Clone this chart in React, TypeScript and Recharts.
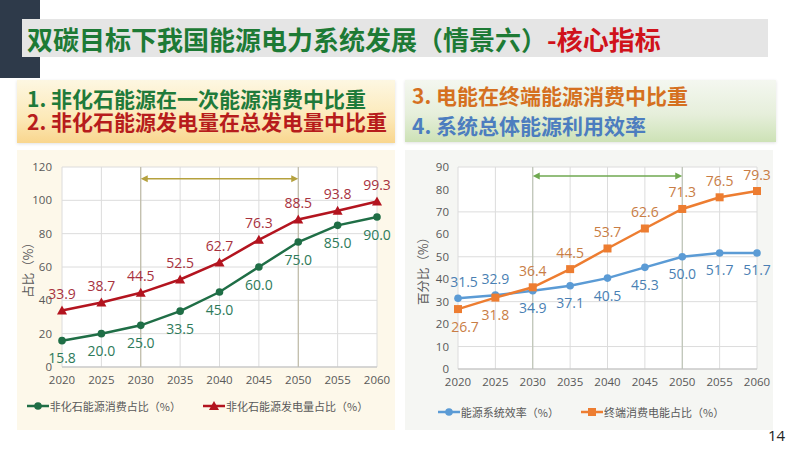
import React from "react";
import {
  LineChart,
  Line,
  XAxis,
  YAxis,
  CartesianGrid,
  ReferenceLine,
  LabelList,
  Legend,
} from "recharts";

// categories
const years = ["2020", "2025", "2030", "2035", "2040", "2045", "2050", "2055", "2060"];

// left chart: non-fossil shares (%)
const nonFossilConsumption = [15.8, 20.0, 25.0, 33.5, 45.0, 60.0, 75.0, 85.0, 90.0];
const nonFossilGeneration = [33.9, 38.7, 44.5, 52.5, 62.7, 76.3, 88.5, 93.8, 99.3];

// right chart: efficiency and electricity share (%)
const systemEfficiency = [31.5, 32.9, 34.9, 37.1, 40.5, 45.3, 50.0, 51.7, 51.7];
const electricityShare = [26.7, 31.8, 36.4, 44.5, 53.7, 62.6, 71.3, 76.5, 79.3];

const leftTicks = [0, 20, 40, 60, 80, 100, 120];
const rightTicks = [0, 10, 20, 30, 40, 50, 60, 70, 80, 90];

// span marked by the arrow (2030 -> 2050)
const spanYears = ["2030", "2050"];
const leftArrowLevel = 113;
const rightArrowLevel = 86;

// label side per point: 1 = above, -1 = below
const efficiencyLabelSide = [1, 1, -1, -1, -1, -1, -1, -1, -1];
const electricityLabelSide = [-1, -1, 1, 1, 1, 1, 1, 1, 1];

const leftData = years.map((year, i) => ({
  year,
  consumption: nonFossilConsumption[i],
  generation: nonFossilGeneration[i],
}));

const rightData = years.map((year, i) => ({
  year,
  efficiency: systemEfficiency[i],
  electricity: electricityShare[i],
}));

const CJK = '"Noto Sans CJK SC", sans-serif';
const NUM = '"Open Sans", "Noto Sans CJK SC", sans-serif';
const TICK = { fontSize: 11.5, fill: "#595959", fontFamily: NUM };

const GREEN = "#1f6e46";
const RED = "#b3141f";
const BLUE = "#5b9bd5";
const ORANGE = "#ed7d31";

function markerFor(kind: string, color: string, cx: number, cy: number, key?: string) {
  if (kind === "triangle") {
    return (
      <polygon
        key={key}
        points={`${cx},${cy - 5} ${cx - 5},${cy + 4} ${cx + 5},${cy + 4}`}
        fill={color}
      />
    );
  }
  if (kind === "square") {
    return <rect key={key} x={cx - 4} y={cy - 4} width={8} height={8} fill={color} />;
  }
  return <circle key={key} cx={cx} cy={cy} r={3.8} fill={color} />;
}

const dotRenderer = (kind: string, color: string) => (props: any) =>
  markerFor(kind, color, props.cx, props.cy, `${kind}-${props.index}`);

// firstShift nudges the first label right, off the y-axis ticks
const valueLabel = (color: string, sides: number[] | number, firstShift = 0) => (props: any) => {
  const { x, y, value, index } = props;
  const side = Array.isArray(sides) ? sides[index] : sides;
  return (
    <text
      x={x + (index === 0 ? firstShift : 0)}
      y={y - side * 17}
      textAnchor="middle"
      dominantBaseline="central"
      fill={color}
      fontSize={14}
      fontFamily={NUM}
    >
      {Number(value).toFixed(1)}
    </text>
  );
};

const arrowShape = (color: string) => (props: any) => {
  const { x1, y1, x2, y2 } = props;
  return (
    <g>
      <line x1={x1 + 4} y1={y1} x2={x2 - 4} y2={y2} stroke={color} strokeWidth={1.5} />
      <polygon points={`${x1},${y1} ${x1 + 7},${y1 - 3.5} ${x1 + 7},${y1 + 3.5}`} fill={color} />
      <polygon points={`${x2},${y2} ${x2 - 7},${y2 - 3.5} ${x2 - 7},${y2 + 3.5}`} fill={color} />
    </g>
  );
};

const axisTitle = (text: string, dx: number) => ({
  content: (props: any) => {
    const vb = props.viewBox || { x: 0, y: 0, width: 0, height: 0 };
    const cx = vb.x + dx;
    const cy = vb.y + vb.height / 2;
    return (
      <text
        transform={`translate(${cx}, ${cy}) rotate(-90)`}
        textAnchor="middle"
        dominantBaseline="central"
        fontSize={12.5}
        fill="#595959"
        fontFamily={CJK}
      >
        {text}
      </text>
    );
  },
});

type LegendItem = { name: string; color: string; kind: string };

function LegendRow({ items }: { items: LegendItem[] }) {
  return (
    <div
      style={{
        display: "flex",
        justifyContent: "center",
        alignItems: "center",
        gap: 22,
        fontSize: 11,
        color: "#595959",
        fontFamily: CJK,
        height: 28,
      }}
    >
      {items.map((it) => (
        <div key={it.name} style={{ display: "flex", alignItems: "center" }}>
          <svg width={22} height={10} style={{ marginRight: 1 }}>
            <line x1={0} y1={5} x2={22} y2={5} stroke={it.color} strokeWidth={2.5} />
            {markerFor(it.kind, it.color, 11, 5)}
          </svg>
          <span>{it.name}</span>
        </div>
      ))}
    </div>
  );
}

const leftLegend: LegendItem[] = [
  { name: "非化石能源消费占比（%）", color: GREEN, kind: "circle" },
  { name: "非化石能源发电量占比（%）", color: RED, kind: "triangle" },
];

const rightLegend: LegendItem[] = [
  { name: "能源系统效率（%）", color: BLUE, kind: "circle" },
  { name: "终端消费电能占比（%）", color: ORANGE, kind: "square" },
];

function LeftChart() {
  return (
    <LineChart
      width={378}
      height={280}
      data={leftData}
      margin={{ top: 17, right: 19, bottom: 10, left: 0 }}
    >
      <CartesianGrid stroke="#dcdcdc" fill="#ffffff" />
      <XAxis
        dataKey="year"
        tick={TICK}
        tickLine={false}
        axisLine={{ stroke: "#bfbfbf" }}
        height={25}
        tickMargin={3}
      />
      <YAxis
        domain={[0, 120]}
        ticks={leftTicks}
        tick={TICK}
        tickLine={false}
        axisLine={false}
        width={44}
        tickMargin={4}
        label={axisTitle("占比（%）", 9)}
      />
      {spanYears.map((y) => (
        <ReferenceLine key={y} x={y} stroke="#b9b49c" strokeWidth={1} />
      ))}
      <ReferenceLine
        segment={[
          { x: spanYears[0], y: leftArrowLevel },
          { x: spanYears[1], y: leftArrowLevel },
        ]}
        shape={arrowShape("#b5a13e")}
      />
      <Line
        dataKey="consumption"
        stroke={GREEN}
        strokeWidth={2.5}
        dot={dotRenderer("circle", GREEN)}
        isAnimationActive={false}
      >
        <LabelList dataKey="consumption" content={valueLabel("#2e7a5a", -1)} />
      </Line>
      <Line
        dataKey="generation"
        stroke={RED}
        strokeWidth={2.5}
        dot={dotRenderer("triangle", RED)}
        isAnimationActive={false}
      >
        <LabelList dataKey="generation" content={valueLabel("#a8323e", 1)} />
      </Line>
      <Legend verticalAlign="bottom" height={28} content={() => <LegendRow items={leftLegend} />} />
    </LineChart>
  );
}

function RightChart() {
  return (
    <LineChart
      width={372}
      height={282}
      data={rightData}
      margin={{ top: 17, right: 20, bottom: 6, left: 0 }}
    >
      <CartesianGrid stroke="#dcdcdc" fill="#ffffff" />
      <XAxis
        dataKey="year"
        tick={TICK}
        tickLine={false}
        axisLine={{ stroke: "#bfbfbf" }}
        height={29}
        tickMargin={3}
      />
      <YAxis
        domain={[0, 90]}
        ticks={rightTicks}
        tick={TICK}
        tickLine={false}
        axisLine={false}
        width={53}
        tickMargin={3}
        label={axisTitle("百分比（%）", 17)}
      />
      {spanYears.map((y) => (
        <ReferenceLine key={y} x={y} stroke="#b7bfae" strokeWidth={1} />
      ))}
      <ReferenceLine
        segment={[
          { x: spanYears[0], y: rightArrowLevel },
          { x: spanYears[1], y: rightArrowLevel },
        ]}
        shape={arrowShape("#6fa950")}
      />
      <Line
        dataKey="efficiency"
        stroke={BLUE}
        strokeWidth={2.5}
        dot={dotRenderer("circle", BLUE)}
        isAnimationActive={false}
      >
        <LabelList dataKey="efficiency" content={valueLabel("#4a7fb3", efficiencyLabelSide, 6)} />
      </Line>
      <Line
        dataKey="electricity"
        stroke={ORANGE}
        strokeWidth={2.5}
        dot={dotRenderer("square", ORANGE)}
        isAnimationActive={false}
      >
        <LabelList dataKey="electricity" content={valueLabel("#c97d45", electricityLabelSide, 7)} />
      </Line>
      <Legend verticalAlign="bottom" height={28} content={() => <LegendRow items={rightLegend} />} />
    </LineChart>
  );
}

export default function App() {
  return (
    <div
      style={{
        position: "absolute",
        left: 0,
        top: 0,
        width: 800,
        height: 450,
        background: "#ffffff",
        overflow: "hidden",
        fontFamily: CJK,
      }}
    >
      {/* header */}
      <div style={{ position: "absolute", left: 0, top: 0, width: 40, height: 78, background: "#2e3a4a" }} />
      <div
        style={{
          position: "absolute",
          left: 22,
          top: 19,
          width: 746,
          height: 38,
          background: "#e5e5e5",
          display: "flex",
          alignItems: "center",
          paddingLeft: 5,
          boxSizing: "border-box",
          fontSize: 26,
          fontWeight: 700,
          whiteSpace: "nowrap",
          letterSpacing: 0,
        }}
      >
        <span style={{ color: "#1d7a35" }}>双碳目标下我国能源电力系统发展（情景六）</span>
        <span style={{ color: "#d0121b" }}>-核心指标</span>
      </div>

      {/* subtitle boxes */}
      <div
        style={{
          position: "absolute",
          left: 17,
          top: 80,
          width: 378,
          height: 63,
          background: "linear-gradient(to bottom, #fdf7e2 0%, #fce9b8 60%, #f9d68e 100%)",
          boxShadow: "0 1px 3px rgba(0,0,0,0.12)",
          fontSize: 21,
          fontWeight: 700,
          lineHeight: "23px",
          padding: "7px 0 0 10px",
          boxSizing: "border-box",
          whiteSpace: "nowrap",
        }}
      >
        <div style={{ color: "#1f7a3a", marginTop: 0 }}>1. 非化石能源在一次能源消费中比重</div>
        <div style={{ color: "#b71c1c" }}>2. 非化石能源发电量在总发电量中比重</div>
      </div>
      <div
        style={{
          position: "absolute",
          left: 405,
          top: 80,
          width: 371,
          height: 62,
          background: "linear-gradient(to bottom, #f4f7f0 0%, #e6efdb 55%, #cde2b6 100%)",
          boxShadow: "0 1px 3px rgba(0,0,0,0.12)",
          fontSize: 21,
          fontWeight: 700,
          lineHeight: "30px",
          padding: "0 0 0 7px",
          boxSizing: "border-box",
          whiteSpace: "nowrap",
        }}
      >
        <div style={{ color: "#d5701f" }}>3. 电能在终端能源消费中比重</div>
        <div style={{ color: "#4c7dbf" }}>4. 系统总体能源利用效率</div>
      </div>

      {/* chart panels */}
      <div style={{ position: "absolute", left: 17, top: 150, width: 378, height: 280, background: "#fdf8ea" }} />
      <div style={{ position: "absolute", left: 405, top: 150, width: 368, height: 280, background: "#f5f6f3" }} />

      <div style={{ position: "absolute", left: 18, top: 150 }}>
        <LeftChart />
      </div>
      <div style={{ position: "absolute", left: 405, top: 150 }}>
        <RightChart />
      </div>

      <div
        style={{
          position: "absolute",
          left: 768,
          top: 425,
          fontSize: 15,
          color: "#222",
          fontFamily: NUM,
        }}
      >
        14
      </div>
    </div>
  );
}
